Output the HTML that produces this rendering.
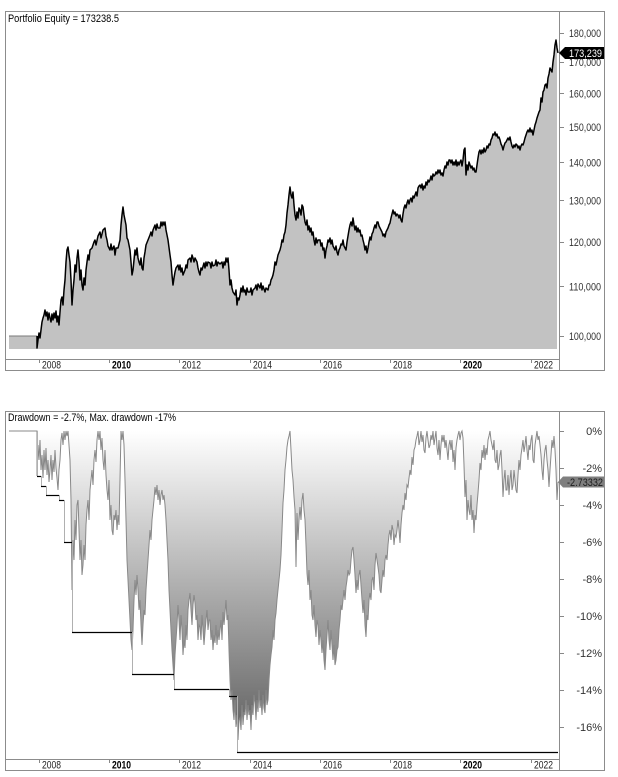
<!DOCTYPE html>
<html><head><meta charset="utf-8"><style>
html,body{margin:0;padding:0;background:#fff;}
svg{display:block;}
text{font-family:"Liberation Sans",Arial,sans-serif;}
</style></head><body>
<svg width="618" height="777" viewBox="0 0 618 777" xmlns="http://www.w3.org/2000/svg">
<defs>
<linearGradient id="dd" gradientUnits="userSpaceOnUse" x1="0" y1="431" x2="0" y2="752">
<stop offset="0" stop-color="#ffffff"/><stop offset="1" stop-color="#5a5a5a"/>
</linearGradient>
</defs>
<rect width="618" height="777" fill="#fff"/>

<!-- ===== TOP PANEL ===== -->
<polygon fill="#c2c2c2" points="9,336 37,336 37,348 38,340 39,333 40,338 41,330 42,322 43,318 44,315 45,310 46,316 47,312 48,320 49,313 50,318 51,322 52,314 53,320 54,313 55,318 56,311 57,322 58,316 59,325 60,312 61,300 62,297 63,305 64,290 65,280 66,262 67,250 68,247 69,255 70,262 71,280 72,305 73,290 74,280 75,265 76,272 77,258 78,250 79,262 80,280 81,270 82,285 83,290 84,278 85,285 86,270 87,262 88,255 89,260 90,250 92,248 94,242 95,240 96,245 98,236 100,232 101,238 103,230 105,228 106,236 107,240 108,246 110,250 111,244 112,250 114,246 115,255 116,248 118,248 119,244 120,240 121,225 122,215 123,207 124,215 125,220 126,225 127,238 128,240 130,250 131,262 132,275 133,270 134,260 135,250 136,255 137,248 138,258 139,262 140,265 141,258 142,268 143,270 144,258 145,252 146,245 148,240 150,235 151,232 152,236 153,230 155,225 156,230 157,224 158,228 160,228 161,222 162,226 163,222 164,225 165,222 166,230 167,235 168,240 170,255 171,262 172,275 173,285 174,278 175,272 176,268 178,265 179,270 180,265 181,272 182,268 183,275 185,270 186,265 187,268 188,260 190,258 191,262 192,255 193,258 194,262 195,258 197,262 198,268 199,272 200,275 201,268 202,270 204,263 205,268 206,262 207,266 208,262 210,263 211,268 212,262 213,266 215,265 216,260 217,266 218,262 220,264 222,262 223,268 224,262 225,265 226,258 227,262 228,258 229,270 230,285 231,280 232,288 233,292 235,295 236,290 237,305 238,298 239,300 240,295 241,288 242,292 243,286 244,292 245,290 246,295 247,288 248,292 250,292 251,288 252,295 253,290 255,288 256,285 257,290 258,284 260,288 261,283 262,290 263,286 265,292 266,288 268,290 269,285 270,285 271,280 272,278 273,275 274,270 275,262 276,265 277,260 278,255 280,250 281,246 282,240 283,242 284,235 285,232 286,225 287,213 288,205 289,195 290,187 291,195 292,198 293,192 294,205 295,215 296,220 297,212 298,218 299,208 300,210 301,215 302,205 303,207 304,215 305,222 306,225 307,220 308,230 309,226 310,232 311,228 312,235 313,232 314,240 315,245 316,238 317,243 318,240 320,240 321,246 322,243 323,250 324,248 325,258 326,250 327,246 328,240 329,242 330,238 331,244 332,240 333,246 334,248 335,250 336,246 337,252 338,255 339,250 340,248 341,244 342,245 343,240 344,246 345,248 346,250 347,242 348,236 349,230 350,225 351,222 352,226 353,218 354,225 355,230 356,226 357,232 358,228 359,232 360,230 361,236 362,235 363,240 364,244 365,250 366,246 367,253 368,248 369,242 370,237 371,240 372,234 373,232 374,228 375,225 376,228 377,222 378,222 379,226 380,228 381,230 382,232 383,236 384,234 385,237 386,232 387,230 388,228 389,225 390,223 391,218 392,214 393,210 394,214 395,212 396,216 397,214 398,215 399,218 400,215 401,220 402,222 403,214 404,208 405,205 406,208 407,203 408,200 409,204 410,200 411,198 412,202 413,196 414,198 415,195 416,192 417,196 418,188 419,186 420,185 421,188 422,184 423,190 424,186 425,188 426,182 427,185 428,180 429,182 430,180 431,176 432,180 433,174 434,176 435,175 436,172 437,174 438,170 439,173 440,170 441,175 442,173 443,176 444,170 445,166 446,168 447,162 448,165 449,160 450,160 451,163 452,160 453,165 454,162 455,165 456,160 457,166 458,162 459,165 460,162 461,160 462,166 463,160 464,150 465,148 466,175 467,165 468,170 469,162 470,165 471,168 472,166 473,170 474,168 475,172 476,172 477,165 478,158 479,152 480,150 481,154 482,150 483,153 484,148 485,152 486,150 487,146 488,148 489,144 490,145 491,140 492,138 493,134 494,135 495,132 496,136 497,134 498,138 499,137 500,140 501,144 502,146 503,150 504,146 505,143 506,142 507,140 508,138 509,140 510,137 511,142 512,146 513,148 514,145 515,147 516,144 517,145 518,148 519,146 520,150 521,146 522,144 523,145 524,142 525,138 526,135 527,132 528,130 529,132 530,128 531,132 532,130 533,135 534,130 535,125 536,122 537,118 538,115 539,112 540,110 541,98 542,102 543,92 544,90 545,85 546,84 547,88 548,78 549,74 550,68 551,70 552,72 553,62 554,55 555,45 556,40 557,48 557,349 9,349"/>
<line x1="9" y1="336" x2="37" y2="336" stroke="#7a7a7a" stroke-width="1"/>
<polyline fill="none" stroke="#000" stroke-width="1.5" stroke-linejoin="round" points="37,336 37,348 38,340 39,333 40,338 41,330 42,322 43,318 44,315 45,310 46,316 47,312 48,320 49,313 50,318 51,322 52,314 53,320 54,313 55,318 56,311 57,322 58,316 59,325 60,312 61,300 62,297 63,305 64,290 65,280 66,262 67,250 68,247 69,255 70,262 71,280 72,305 73,290 74,280 75,265 76,272 77,258 78,250 79,262 80,280 81,270 82,285 83,290 84,278 85,285 86,270 87,262 88,255 89,260 90,250 92,248 94,242 95,240 96,245 98,236 100,232 101,238 103,230 105,228 106,236 107,240 108,246 110,250 111,244 112,250 114,246 115,255 116,248 118,248 119,244 120,240 121,225 122,215 123,207 124,215 125,220 126,225 127,238 128,240 130,250 131,262 132,275 133,270 134,260 135,250 136,255 137,248 138,258 139,262 140,265 141,258 142,268 143,270 144,258 145,252 146,245 148,240 150,235 151,232 152,236 153,230 155,225 156,230 157,224 158,228 160,228 161,222 162,226 163,222 164,225 165,222 166,230 167,235 168,240 170,255 171,262 172,275 173,285 174,278 175,272 176,268 178,265 179,270 180,265 181,272 182,268 183,275 185,270 186,265 187,268 188,260 190,258 191,262 192,255 193,258 194,262 195,258 197,262 198,268 199,272 200,275 201,268 202,270 204,263 205,268 206,262 207,266 208,262 210,263 211,268 212,262 213,266 215,265 216,260 217,266 218,262 220,264 222,262 223,268 224,262 225,265 226,258 227,262 228,258 229,270 230,285 231,280 232,288 233,292 235,295 236,290 237,305 238,298 239,300 240,295 241,288 242,292 243,286 244,292 245,290 246,295 247,288 248,292 250,292 251,288 252,295 253,290 255,288 256,285 257,290 258,284 260,288 261,283 262,290 263,286 265,292 266,288 268,290 269,285 270,285 271,280 272,278 273,275 274,270 275,262 276,265 277,260 278,255 280,250 281,246 282,240 283,242 284,235 285,232 286,225 287,213 288,205 289,195 290,187 291,195 292,198 293,192 294,205 295,215 296,220 297,212 298,218 299,208 300,210 301,215 302,205 303,207 304,215 305,222 306,225 307,220 308,230 309,226 310,232 311,228 312,235 313,232 314,240 315,245 316,238 317,243 318,240 320,240 321,246 322,243 323,250 324,248 325,258 326,250 327,246 328,240 329,242 330,238 331,244 332,240 333,246 334,248 335,250 336,246 337,252 338,255 339,250 340,248 341,244 342,245 343,240 344,246 345,248 346,250 347,242 348,236 349,230 350,225 351,222 352,226 353,218 354,225 355,230 356,226 357,232 358,228 359,232 360,230 361,236 362,235 363,240 364,244 365,250 366,246 367,253 368,248 369,242 370,237 371,240 372,234 373,232 374,228 375,225 376,228 377,222 378,222 379,226 380,228 381,230 382,232 383,236 384,234 385,237 386,232 387,230 388,228 389,225 390,223 391,218 392,214 393,210 394,214 395,212 396,216 397,214 398,215 399,218 400,215 401,220 402,222 403,214 404,208 405,205 406,208 407,203 408,200 409,204 410,200 411,198 412,202 413,196 414,198 415,195 416,192 417,196 418,188 419,186 420,185 421,188 422,184 423,190 424,186 425,188 426,182 427,185 428,180 429,182 430,180 431,176 432,180 433,174 434,176 435,175 436,172 437,174 438,170 439,173 440,170 441,175 442,173 443,176 444,170 445,166 446,168 447,162 448,165 449,160 450,160 451,163 452,160 453,165 454,162 455,165 456,160 457,166 458,162 459,165 460,162 461,160 462,166 463,160 464,150 465,148 466,175 467,165 468,170 469,162 470,165 471,168 472,166 473,170 474,168 475,172 476,172 477,165 478,158 479,152 480,150 481,154 482,150 483,153 484,148 485,152 486,150 487,146 488,148 489,144 490,145 491,140 492,138 493,134 494,135 495,132 496,136 497,134 498,138 499,137 500,140 501,144 502,146 503,150 504,146 505,143 506,142 507,140 508,138 509,140 510,137 511,142 512,146 513,148 514,145 515,147 516,144 517,145 518,148 519,146 520,150 521,146 522,144 523,145 524,142 525,138 526,135 527,132 528,130 529,132 530,128 531,132 532,130 533,135 534,130 535,125 536,122 537,118 538,115 539,112 540,110 541,98 542,102 543,92 544,90 545,85 546,84 547,88 548,78 549,74 550,68 551,70 552,72 553,62 554,55 555,45 556,40 557,48 558,53"/>

<!-- frame top -->
<rect x="5.5" y="11.5" width="599" height="359" fill="none" stroke="#8c8c8c" stroke-width="1"/>
<line x1="559.5" y1="11" x2="559.5" y2="371" stroke="#8c8c8c"/>
<line x1="5" y1="359.5" x2="559" y2="359.5" stroke="#8c8c8c"/>

<text x="8" y="22" font-size="11" fill="#000" textLength="111" lengthAdjust="spacingAndGlyphs">Portfolio Equity = 173238.5</text>

<!-- y ticks top -->
<g stroke="#888" stroke-width="1">
<line x1="560" y1="33.5" x2="564" y2="33.5"/>
<line x1="560" y1="62.5" x2="564" y2="62.5"/>
<line x1="560" y1="93.5" x2="564" y2="93.5"/>
<line x1="560" y1="127.5" x2="564" y2="127.5"/>
<line x1="560" y1="162.5" x2="564" y2="162.5"/>
<line x1="560" y1="200.5" x2="564" y2="200.5"/>
<line x1="560" y1="242.5" x2="564" y2="242.5"/>
<line x1="560" y1="286.5" x2="564" y2="286.5"/>
<line x1="560" y1="336.5" x2="564" y2="336.5"/>
</g>
<g font-size="11" fill="#333" text-anchor="end">
<text x="601" y="37" textLength="32" lengthAdjust="spacingAndGlyphs">180,000</text>
<text x="601" y="66" textLength="32" lengthAdjust="spacingAndGlyphs">170,000</text>
<text x="601" y="97.5" textLength="32" lengthAdjust="spacingAndGlyphs">160,000</text>
<text x="601" y="131" textLength="32" lengthAdjust="spacingAndGlyphs">150,000</text>
<text x="601" y="166.5" textLength="32" lengthAdjust="spacingAndGlyphs">140,000</text>
<text x="601" y="204.5" textLength="32" lengthAdjust="spacingAndGlyphs">130,000</text>
<text x="601" y="246" textLength="32" lengthAdjust="spacingAndGlyphs">120,000</text>
<text x="601" y="290.5" textLength="32" lengthAdjust="spacingAndGlyphs">110,000</text>
<text x="601" y="340" textLength="32" lengthAdjust="spacingAndGlyphs">100,000</text>
</g>
<polygon points="559,53 565,47 604,47 604,59 565,59" fill="#000"/>
<text x="602" y="57" font-size="11" fill="#fff" text-anchor="end" textLength="33" lengthAdjust="spacingAndGlyphs">173,239</text>

<!-- x axis top -->
<g stroke="#888" stroke-width="1">
<line x1="39.5" y1="360" x2="39.5" y2="363"/>
<line x1="109.5" y1="360" x2="109.5" y2="363"/>
<line x1="179.5" y1="360" x2="179.5" y2="363"/>
<line x1="250.5" y1="360" x2="250.5" y2="363"/>
<line x1="320.5" y1="360" x2="320.5" y2="363"/>
<line x1="390.5" y1="360" x2="390.5" y2="363"/>
<line x1="460.5" y1="360" x2="460.5" y2="363"/>
<line x1="531.5" y1="360" x2="531.5" y2="363"/>
</g>
<g font-size="11" fill="#222">
<text x="42" y="368.5" textLength="19" lengthAdjust="spacingAndGlyphs">2008</text>
<text x="112" y="368.5" font-weight="bold" fill="#000" textLength="19" lengthAdjust="spacingAndGlyphs">2010</text>
<text x="182" y="368.5" textLength="19" lengthAdjust="spacingAndGlyphs">2012</text>
<text x="253" y="368.5" textLength="19" lengthAdjust="spacingAndGlyphs">2014</text>
<text x="323" y="368.5" textLength="19" lengthAdjust="spacingAndGlyphs">2016</text>
<text x="393" y="368.5" textLength="19" lengthAdjust="spacingAndGlyphs">2018</text>
<text x="463" y="368.5" font-weight="bold" fill="#000" textLength="19" lengthAdjust="spacingAndGlyphs">2020</text>
<text x="534" y="368.5" textLength="19" lengthAdjust="spacingAndGlyphs">2022</text>
</g>

<!-- ===== BOTTOM PANEL ===== -->
<polygon fill="url(#dd)" points="9,431 37,431 37,476 38,445 39,460 40,440 41,470 42,455 43,478 44,450 45,470 46,448 47,475 48,460 49,482 50,470 51,455 52,480 53,460 54,472 55,450 56,468 57,478 58,490 59,470 60,460 61,440 62,433 63,445 64,431 65,440 66,431 67,436 68,431 69,445 70,460 71,500 72,590 73,540 74,560 75,520 76,540 77,505 78,500 79,530 80,560 81,540 82,575 83,565 84,545 85,560 86,525 87,510 88,500 89,520 90,490 91,480 92,470 93,485 94,460 95,450 96,462 97,440 98,431 99,440 100,431 101,450 102,438 103,460 104,470 105,450 106,475 107,490 108,500 109,480 110,520 111,505 112,530 113,535 114,515 115,520 116,510 117,530 118,515 119,525 120,480 121,431 122,440 123,431 124,445 125,480 126,520 127,560 128,580 129,600 130,620 131,640 132,650 133,630 134,600 135,580 136,595 137,575 138,590 139,610 140,600 141,625 142,645 143,625 144,610 145,615 146,590 147,575 148,560 149,545 150,530 151,540 152,520 153,510 154,500 155,487 156,495 157,485 158,500 159,490 160,505 161,495 162,490 163,500 164,495 165,505 166,520 167,540 168,560 169,590 170,610 171,630 172,650 173,665 174,680 175,655 176,640 177,625 178,605 179,620 180,640 181,615 182,630 183,655 184,640 185,648 186,625 187,640 188,610 189,600 190,593 191,610 192,625 193,605 194,595 195,603 196,620 197,615 198,640 199,625 200,627 201,640 202,615 203,630 204,645 205,632 206,620 207,610 208,630 209,620 210,620 211,640 212,630 213,650 214,635 215,643 216,625 217,645 218,630 219,640 220,630 221,620 222,640 223,612 224,625 225,613 226,600 227,620 228,615 229,650 230,680 231,700 232,690 233,710 234,720 235,700 236,727 237,715 238,740 239,720 240,718 241,730 242,705 243,725 244,712 245,715 246,700 247,720 248,705 249,715 250,710 251,730 252,705 253,715 254,695 255,703 256,720 257,700 258,712 259,690 260,708 261,700 262,715 263,695 264,708 265,713 266,690 267,705 268,700 269,680 270,665 271,655 272,647 273,630 274,640 275,620 276,613 277,600 278,590 279,580 280,570 281,555 282,530 283,503 284,490 285,470 286,460 287,447 288,440 289,436 290,431 291,450 292,470 293,480 294,497 295,510 296,567 297,513 298,540 299,520 300,507 301,520 302,500 303,493 304,510 305,520 306,545 307,573 308,585 309,570 310,600 311,590 312,615 313,620 314,605 315,625 316,637 317,620 318,625 319,645 320,630 321,640 322,653 323,640 324,660 325,670 326,650 327,635 328,620 329,640 330,650 331,630 332,645 333,660 334,645 335,665 336,660 337,650 338,647 339,630 340,620 341,605 342,610 343,600 344,590 345,600 346,587 347,580 348,570 349,575 350,573 351,560 352,550 353,547 354,560 355,575 356,593 357,580 358,590 359,575 360,570 361,585 362,600 363,613 364,600 365,625 366,637 367,615 368,620 369,600 370,593 371,600 372,580 373,577 374,590 375,565 376,553 377,560 378,567 379,575 380,590 381,593 382,580 383,570 384,577 385,560 386,555 387,560 388,545 389,535 390,530 391,540 392,525 393,530 394,545 395,535 396,537 397,530 398,520 399,530 400,543 401,525 402,513 403,505 404,510 405,493 406,500 407,485 408,487 409,478 410,470 411,475 412,457 413,465 414,450 415,447 416,440 417,436 418,431 419,445 420,440 421,431 422,442 423,435 424,450 425,453 426,438 427,431 428,440 429,448 430,445 431,435 432,440 433,431 434,445 435,438 436,431 437,448 438,455 439,440 440,460 441,445 442,435 443,442 444,435 445,448 446,440 447,450 448,460 449,445 450,440 451,450 452,440 453,462 454,450 455,470 456,448 457,440 458,435 459,431 460,440 461,433 462,431 463,438 464,465 465,497 466,480 467,520 468,500 469,510 470,515 471,495 472,520 473,510 474,533 475,515 476,520 477,505 478,493 479,480 480,463 481,470 482,450 483,458 484,445 485,460 486,448 487,455 488,440 489,436 490,431 491,440 492,445 493,450 494,440 495,460 496,463 497,450 498,470 499,465 500,455 501,450 502,470 503,497 504,480 505,470 506,490 507,490 508,475 509,495 510,480 511,470 512,490 513,485 514,470 515,480 516,490 517,493 518,475 519,460 520,470 521,455 522,448 523,440 524,452 525,445 526,436 527,450 528,460 529,445 530,450 531,440 532,435 533,460 534,463 535,445 536,438 537,431 538,440 539,436 540,445 541,455 542,470 543,480 544,460 545,450 546,445 547,460 548,470 549,487 550,470 551,455 552,440 553,448 554,436 555,450 556,470 557,500 558,482 558,431"/>
<polyline fill="none" stroke="#888" stroke-width="1" points="9,431 37,431 37,476 38,445 39,460 40,440 41,470 42,455 43,478 44,450 45,470 46,448 47,475 48,460 49,482 50,470 51,455 52,480 53,460 54,472 55,450 56,468 57,478 58,490 59,470 60,460 61,440 62,433 63,445 64,431 65,440 66,431 67,436 68,431 69,445 70,460 71,500 72,590 73,540 74,560 75,520 76,540 77,505 78,500 79,530 80,560 81,540 82,575 83,565 84,545 85,560 86,525 87,510 88,500 89,520 90,490 91,480 92,470 93,485 94,460 95,450 96,462 97,440 98,431 99,440 100,431 101,450 102,438 103,460 104,470 105,450 106,475 107,490 108,500 109,480 110,520 111,505 112,530 113,535 114,515 115,520 116,510 117,530 118,515 119,525 120,480 121,431 122,440 123,431 124,445 125,480 126,520 127,560 128,580 129,600 130,620 131,640 132,650 133,630 134,600 135,580 136,595 137,575 138,590 139,610 140,600 141,625 142,645 143,625 144,610 145,615 146,590 147,575 148,560 149,545 150,530 151,540 152,520 153,510 154,500 155,487 156,495 157,485 158,500 159,490 160,505 161,495 162,490 163,500 164,495 165,505 166,520 167,540 168,560 169,590 170,610 171,630 172,650 173,665 174,680 175,655 176,640 177,625 178,605 179,620 180,640 181,615 182,630 183,655 184,640 185,648 186,625 187,640 188,610 189,600 190,593 191,610 192,625 193,605 194,595 195,603 196,620 197,615 198,640 199,625 200,627 201,640 202,615 203,630 204,645 205,632 206,620 207,610 208,630 209,620 210,620 211,640 212,630 213,650 214,635 215,643 216,625 217,645 218,630 219,640 220,630 221,620 222,640 223,612 224,625 225,613 226,600 227,620 228,615 229,650 230,680 231,700 232,690 233,710 234,720 235,700 236,727 237,715 238,740 239,720 240,718 241,730 242,705 243,725 244,712 245,715 246,700 247,720 248,705 249,715 250,710 251,730 252,705 253,715 254,695 255,703 256,720 257,700 258,712 259,690 260,708 261,700 262,715 263,695 264,708 265,713 266,690 267,705 268,700 269,680 270,665 271,655 272,647 273,630 274,640 275,620 276,613 277,600 278,590 279,580 280,570 281,555 282,530 283,503 284,490 285,470 286,460 287,447 288,440 289,436 290,431 291,450 292,470 293,480 294,497 295,510 296,567 297,513 298,540 299,520 300,507 301,520 302,500 303,493 304,510 305,520 306,545 307,573 308,585 309,570 310,600 311,590 312,615 313,620 314,605 315,625 316,637 317,620 318,625 319,645 320,630 321,640 322,653 323,640 324,660 325,670 326,650 327,635 328,620 329,640 330,650 331,630 332,645 333,660 334,645 335,665 336,660 337,650 338,647 339,630 340,620 341,605 342,610 343,600 344,590 345,600 346,587 347,580 348,570 349,575 350,573 351,560 352,550 353,547 354,560 355,575 356,593 357,580 358,590 359,575 360,570 361,585 362,600 363,613 364,600 365,625 366,637 367,615 368,620 369,600 370,593 371,600 372,580 373,577 374,590 375,565 376,553 377,560 378,567 379,575 380,590 381,593 382,580 383,570 384,577 385,560 386,555 387,560 388,545 389,535 390,530 391,540 392,525 393,530 394,545 395,535 396,537 397,530 398,520 399,530 400,543 401,525 402,513 403,505 404,510 405,493 406,500 407,485 408,487 409,478 410,470 411,475 412,457 413,465 414,450 415,447 416,440 417,436 418,431 419,445 420,440 421,431 422,442 423,435 424,450 425,453 426,438 427,431 428,440 429,448 430,445 431,435 432,440 433,431 434,445 435,438 436,431 437,448 438,455 439,440 440,460 441,445 442,435 443,442 444,435 445,448 446,440 447,450 448,460 449,445 450,440 451,450 452,440 453,462 454,450 455,470 456,448 457,440 458,435 459,431 460,440 461,433 462,431 463,438 464,465 465,497 466,480 467,520 468,500 469,510 470,515 471,495 472,520 473,510 474,533 475,515 476,520 477,505 478,493 479,480 480,463 481,470 482,450 483,458 484,445 485,460 486,448 487,455 488,440 489,436 490,431 491,440 492,445 493,450 494,440 495,460 496,463 497,450 498,470 499,465 500,455 501,450 502,470 503,497 504,480 505,470 506,490 507,490 508,475 509,495 510,480 511,470 512,490 513,485 514,470 515,480 516,490 517,493 518,475 519,460 520,470 521,455 522,448 523,440 524,452 525,445 526,436 527,450 528,460 529,445 530,450 531,440 532,435 533,460 534,463 535,445 536,438 537,431 538,440 539,436 540,445 541,455 542,470 543,480 544,460 545,450 546,445 547,460 548,470 549,487 550,470 551,455 552,440 553,448 554,436 555,450 556,470 557,500 558,482"/>

<!-- max drawdown stair -->
<g stroke="#b0b0b0" stroke-width="1" fill="none">
<line x1="37.5" y1="431" x2="37.5" y2="476"/>
<line x1="41.5" y1="476" x2="41.5" y2="486"/>
<line x1="46.5" y1="486" x2="46.5" y2="495"/>
<line x1="59.5" y1="495" x2="59.5" y2="500"/>
<line x1="64.5" y1="500" x2="64.5" y2="542"/>
<line x1="72.5" y1="542" x2="72.5" y2="632"/>
<line x1="132.5" y1="632" x2="132.5" y2="674"/>
<line x1="174.5" y1="674" x2="174.5" y2="689"/>
<line x1="229.5" y1="689" x2="229.5" y2="696"/>
<line x1="237.5" y1="696" x2="237.5" y2="752"/>
</g>
<g stroke="#000" stroke-width="1.2" fill="none">
<line x1="37" y1="476.5" x2="41" y2="476.5"/>
<line x1="41" y1="486.5" x2="46" y2="486.5"/>
<line x1="46" y1="495.5" x2="59" y2="495.5"/>
<line x1="59" y1="500.5" x2="64" y2="500.5"/>
<line x1="64" y1="542.5" x2="72" y2="542.5"/>
<line x1="72" y1="632.5" x2="132" y2="632.5"/>
<line x1="132" y1="674.5" x2="174" y2="674.5"/>
<line x1="174" y1="689.5" x2="229" y2="689.5"/>
<line x1="229" y1="696.5" x2="237" y2="696.5"/>
<line x1="237" y1="752.5" x2="558" y2="752.5"/>
</g>

<!-- frame bottom -->
<rect x="5.5" y="411.5" width="599" height="359" fill="none" stroke="#8c8c8c" stroke-width="1"/>
<line x1="559.5" y1="411" x2="559.5" y2="771" stroke="#8c8c8c"/>
<line x1="5" y1="759.5" x2="559" y2="759.5" stroke="#8c8c8c"/>

<text x="8" y="421" font-size="11" fill="#000" textLength="168" lengthAdjust="spacingAndGlyphs">Drawdown = -2.7%, Max. drawdown -17%</text>

<g stroke="#888" stroke-width="1">
<line x1="560" y1="431.5" x2="564" y2="431.5"/>
<line x1="560" y1="468.5" x2="564" y2="468.5"/>
<line x1="560" y1="505.5" x2="564" y2="505.5"/>
<line x1="560" y1="542.5" x2="564" y2="542.5"/>
<line x1="560" y1="579.5" x2="564" y2="579.5"/>
<line x1="560" y1="616.5" x2="564" y2="616.5"/>
<line x1="560" y1="653.5" x2="564" y2="653.5"/>
<line x1="560" y1="690.5" x2="564" y2="690.5"/>
<line x1="560" y1="727.5" x2="564" y2="727.5"/>
</g>
<g font-size="11" fill="#333" text-anchor="end">
<text x="602" y="435">0%</text>
<text x="602" y="472">-2%</text>
<text x="602" y="509">-4%</text>
<text x="602" y="546">-6%</text>
<text x="602" y="583">-8%</text>
<text x="602" y="620">-10%</text>
<text x="602" y="657">-12%</text>
<text x="602" y="694">-14%</text>
<text x="602" y="731">-16%</text>
</g>
<polygon points="558,482 563,476.5 604,476.5 604,487.5 563,487.5" fill="#7f7f7f"/>
<text x="603" y="486" font-size="11" fill="#1a1a1a" text-anchor="end" textLength="36" lengthAdjust="spacingAndGlyphs">-2.73332</text>

<g stroke="#888" stroke-width="1">
<line x1="39.5" y1="760" x2="39.5" y2="763"/>
<line x1="109.5" y1="760" x2="109.5" y2="763"/>
<line x1="179.5" y1="760" x2="179.5" y2="763"/>
<line x1="250.5" y1="760" x2="250.5" y2="763"/>
<line x1="320.5" y1="760" x2="320.5" y2="763"/>
<line x1="390.5" y1="760" x2="390.5" y2="763"/>
<line x1="460.5" y1="760" x2="460.5" y2="763"/>
<line x1="531.5" y1="760" x2="531.5" y2="763"/>
</g>
<g font-size="11" fill="#222">
<text x="42" y="768.5" textLength="19" lengthAdjust="spacingAndGlyphs">2008</text>
<text x="112" y="768.5" font-weight="bold" fill="#000" textLength="19" lengthAdjust="spacingAndGlyphs">2010</text>
<text x="182" y="768.5" textLength="19" lengthAdjust="spacingAndGlyphs">2012</text>
<text x="253" y="768.5" textLength="19" lengthAdjust="spacingAndGlyphs">2014</text>
<text x="323" y="768.5" textLength="19" lengthAdjust="spacingAndGlyphs">2016</text>
<text x="393" y="768.5" textLength="19" lengthAdjust="spacingAndGlyphs">2018</text>
<text x="463" y="768.5" font-weight="bold" fill="#000" textLength="19" lengthAdjust="spacingAndGlyphs">2020</text>
<text x="534" y="768.5" textLength="19" lengthAdjust="spacingAndGlyphs">2022</text>
</g>
</svg>
</body></html>
